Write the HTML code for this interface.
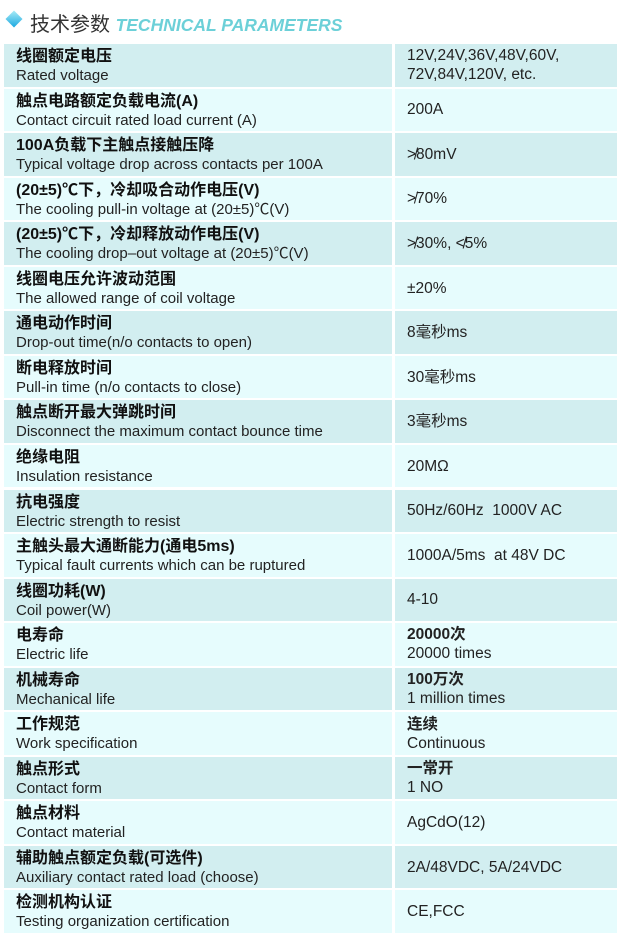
<!DOCTYPE html>
<html><head><meta charset="utf-8"><style>
body{margin:0;width:624px;height:938px;background:#fff;position:relative;overflow:hidden;font-family:"Liberation Sans","Noto Sans CJK SC",sans-serif;color:#111}
.h{position:absolute;left:8px;top:8px;font-size:20px;color:#333;white-space:nowrap}
.h i{font-weight:bold;color:#6cd0d8;font-size:17.5px}
.d{position:absolute;left:8px;top:13px;width:12px;height:12px;transform:rotate(45deg);background:linear-gradient(135deg,#a9ecf7,#1aa8e0)}
.r{position:absolute;left:4px;width:613px;height:42.5px}
.c1,.c2{position:absolute;top:0;height:100%}
.c1{left:0;width:388px}
.c2{left:391px;width:222px}
.dk .c1,.dk .c2{background:#d2eef0}
.lt .c1,.lt .c2{background:#e6fcfd}
.t1{position:absolute;left:12px;top:4px;font-size:16px;font-weight:bold;white-space:nowrap;line-height:18px}
.t2{position:absolute;left:12px;top:23px;font-size:15px;white-space:nowrap;line-height:17px;color:#222}
.v{position:absolute;left:12px;top:0;height:100%;display:flex;align-items:center;font-size:15.5px;line-height:19px;color:#222;white-space:nowrap}
</style></head><body>
<div class="d"></div>
<div class="h" style="left:30px">技术参数 <i>TECHNICAL PARAMETERS</i></div>
<div id="t"></div>
<script>
var rows=[
["线圈额定电压","Rated voltage","12V,24V,36V,48V,60V,<br>72V,84V,120V, etc."],
["触点电路额定负载电流(A)","Contact circuit rated load current (A)","200A"],
["100A负载下主触点接触压降","Typical voltage drop across contacts per 100A","≯80mV"],
["(20±5)℃下，冷却吸合动作电压(V)","The cooling pull-in voltage at (20±5)℃(V)","≯70%"],
["(20±5)℃下，冷却释放动作电压(V)","The cooling drop–out voltage at (20±5)℃(V)","≯30%, ≮5%"],
["线圈电压允许波动范围","The allowed range of coil voltage","±20%"],
["通电动作时间","Drop-out time(n/o contacts to open)","8毫秒ms"],
["断电释放时间","Pull-in time (n/o contacts to close)","30毫秒ms"],
["触点断开最大弹跳时间","Disconnect the maximum contact bounce time","3毫秒ms"],
["绝缘电阻","Insulation resistance","20MΩ"],
["抗电强度","Electric strength to resist","50Hz/60Hz&nbsp; 1000V AC"],
["主触头最大通断能力(通电5ms)","Typical fault currents which can be ruptured","1000A/5ms&nbsp; at 48V DC"],
["线圈功耗(W)","Coil power(W)","4-10"],
["电寿命","Electric life","<b>20000次</b><br>20000 times"],
["机械寿命","Mechanical life","<b>100万次</b><br>1 million times"],
["工作规范","Work specification","<b>连续</b><br>Continuous"],
["触点形式","Contact form","<b>一常开</b><br>1 NO"],
["触点材料","Contact material","AgCdO(12)"],
["辅助触点额定负载(可选件)","Auxiliary contact rated load (choose)","2A/48VDC, 5A/24VDC"],
["检测机构认证","Testing organization certification","CE,FCC"]];
var h="";
rows.forEach(function(r,i){
 var top=44+i*44.55;
 h+='<div class="r '+(i%2?'lt':'dk')+'" style="top:'+top+'px"><div class="c1"><div class="t1">'+r[0]+'</div><div class="t2">'+r[1]+'</div></div><div class="c2"><div class="v"><div>'+r[2]+'</div></div></div></div>';
});
document.getElementById('t').innerHTML=h;
</script>
</body></html>
